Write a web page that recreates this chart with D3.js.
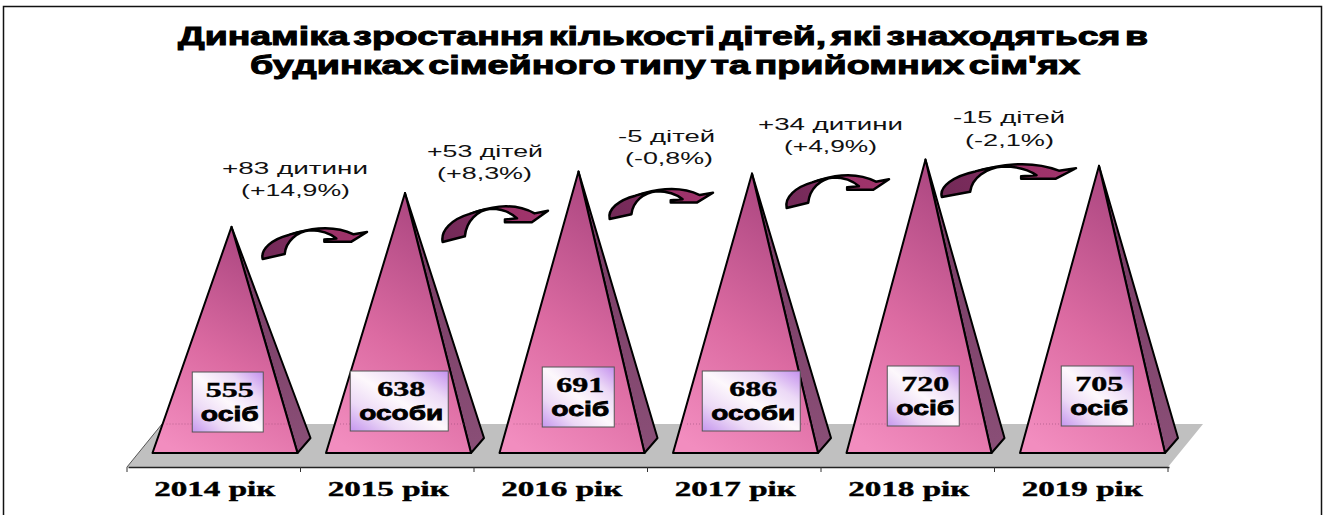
<!DOCTYPE html>
<html>
<head>
<meta charset="utf-8">
<script src="https://cdnjs.cloudflare.com/ajax/libs/d3/7.8.5/d3.min.js"></script>
<style>
  body { margin: 0; background: #fff; }
  svg { display: block; }
</style>
</head>
<body>
<svg></svg>
<script>
var width = 1325;
var height = 515;

// data
var years = ["2014 рік", "2015 рік", "2016 рік", "2017 рік", "2018 рік", "2019 рік"];
var children = [555, 638, 691, 686, 720, 705];
var units = ["осіб", "особи", "осіб", "особи", "осіб", "осіб"];
var changes = ["+83 дитини", "+53 дітей", "-5 дітей", "+34 дитини", "-15 дітей"];
var percents = ["(+14,9%)", "(+8,3%)", "(-0,8%)", "(+4,9%)", "(-2,1%)"];
var titleLines = [
  "Динаміка зростання кількості дітей, які знаходяться в",
  "будинках сімейного типу та прийомних сім'ях"
];

// placement of the hand-positioned callouts, not data
var boxLayout = [
  {dx: 14, top: 372, w: 71}, {dx: 12, top: 371, w: 98}, {dx: 17.5, top: 367, w: 72},
  {dx: 17, top: 371, w: 98}, {dx: 15.5, top: 366, w: 72}, {dx: 16, top: 366, w: 72}
];
var arrowLayout = [
  {x: 262, y: 227, w: 105, h: 32}, {x: 442, y: 205, w: 106, h: 37}, {x: 609, y: 188, w: 104, h: 31},
  {x: 786, y: 174, w: 103, h: 34}, {x: 941, y: 163, w: 135, h: 34}
];
var noteLayout = [
  {x1: 222, w1: 146, y1: 174, x2: 241, w2: 109, y2: 196},
  {x1: 427, w1: 116, y1: 157, x2: 437, w2: 95, y2: 179},
  {x1: 618, w1: 97, y1: 142, x2: 625, w2: 88, y2: 164},
  {x1: 758, w1: 145, y1: 130, x2: 784, w2: 93, y2: 152},
  {x1: 953, w1: 112, y1: 123, x2: 965, w2: 89, y2: 146}
];
var titleLayout = [{x: 178, w: 970, y: 45}, {x: 250, w: 830, y: 74}];

var svg = d3.select("svg").attr("width", width).attr("height", height);
var defs = svg.append("defs");

function gradient(id, x1, y1, x2, y2, stops) {
  var g = defs.append("linearGradient").attr("id", id)
      .attr("x1", x1).attr("y1", y1).attr("x2", x2).attr("y2", y2);
  stops.forEach(function(s) {
    g.append("stop").attr("offset", s[0]).attr("stop-color", s[1]);
  });
}
gradient("front", 0.2, 1, 0.55, 0, [[0, "#f28dbf"], [0.45, "#dc6ba2"], [1, "#ab4680"]]);
gradient("side", 0, 1, 0, 0, [[0, "#8a4f77"], [1, "#753860"]]);
gradient("box", 0, 1, 1, 0, [[0, "#c596ee"], [0.25, "#ecd9f6"], [0.5, "#fdf8fc"], [0.75, "#ecd9f6"], [1, "#c490ee"]]);
gradient("arrow", 0, 0.6, 1, 0.4, [[0, "#742a58"], [0.45, "#7e2c5e"], [0.6, "#9c3268"], [1, "#a0346c"]]);

// page frame, it runs off the bottom of the picture
svg.append("path")
    .attr("d", d3.line()([[3.5, height + 2], [3.5, 6.5], [1321.5, 6.5], [1321.5, height + 2]]))
    .attr("fill", "none")
    .attr("stroke", "#111")
    .attr("stroke-width", 1.5);

// scales
var x = d3.scaleBand().domain(years).range([127, 1168]);
var y = d3.scaleLinear().domain([0, 800]).range([453, 127]);

var baseInset = 25.5;
var baseWidth = 145;
var floorFront = 467;
var floorBack = 424;
var floorSkew = 35;

// floor
svg.append("path")
    .attr("d", d3.line()([
      [x.range()[0], floorFront], [x.range()[0] + floorSkew, floorBack],
      [x.range()[1] + floorSkew, floorBack], [x.range()[1], floorFront]
    ]) + "Z")
    .attr("fill", "#c0c0c0");
svg.append("path")
    .attr("d", d3.line()([[x.range()[0], floorFront], [x.range()[0] + floorSkew, floorBack]]))
    .attr("stroke", "#555").attr("fill", "none");

// axis
var axis = svg.append("g")
    .attr("transform", "translate(1,467)")
    .call(d3.axisBottom(x).tickSize(0).tickSizeOuter(0).tickPadding(15));
axis.select(".domain").attr("stroke", "#222").attr("stroke-width", 1.5);
axis.selectAll("text")
    .attr("font-family", "'Liberation Serif'")
    .attr("font-weight", "bold")
    .attr("font-size", 20)
    .attr("fill", "#000")
    .attr("stroke", "#000")
    .attr("stroke-width", 0.4)
    .attr("textLength", 121)
    .attr("lengthAdjust", "spacingAndGlyphs");

// tick marks sit between the categories
svg.selectAll("line.tick-mark")
    .data(years.map(function(d) { return x(d); }).concat(x.range()[1]))
    .enter().append("line")
    .attr("class", "tick-mark")
    .attr("x1", function(d) { return d; })
    .attr("x2", function(d) { return d; })
    .attr("y1", floorFront)
    .attr("y2", floorFront + 5)
    .attr("stroke", "#333");

// pyramids
var pyramids = svg.selectAll("g.pyramid")
    .data(years.map(function(d, i) { return {year: d, value: children[i], i: i}; }))
    .enter().append("g")
    .attr("class", "pyramid");

function corners(d) {
  var left = x(d.year) + baseInset;
  var right = left + baseWidth;
  return {
    left: [left, y(0)],
    right: [right, y(0)],
    apex: [left + baseWidth / 2 + 6.5, y(d.value)],
    back: [right + 13, y(0) - 15]
  };
}

pyramids.append("path")
    .attr("d", function(d) {
      var c = corners(d);
      return d3.line()([c.apex, c.back, c.right]) + "Z";
    })
    .attr("fill", "url(#side)")
    .attr("stroke", "#000")
    .attr("stroke-width", 2)
    .attr("stroke-linejoin", "round");

pyramids.append("path")
    .attr("d", function(d) {
      var c = corners(d);
      return d3.line()([c.apex, c.left, c.right]) + "Z";
    })
    .attr("fill", "url(#front)")
    .attr("stroke", "#000")
    .attr("stroke-width", 2)
    .attr("stroke-linejoin", "round");

// back edge of the floor shows faintly through the pyramids
pyramids.append("line")
    .attr("x1", function(d) { return x(d.year) + baseInset + 14; })
    .attr("x2", function(d) { return x(d.year) + baseInset + baseWidth - 2; })
    .attr("y1", floorBack)
    .attr("y2", floorBack)
    .attr("stroke", "#8a3f6c")
    .attr("stroke-opacity", 0.5)
    .attr("stroke-dasharray", "1,2");

// value boxes
var boxH = 60;
var boxes = svg.selectAll("g.value-box")
    .data(years.map(function(d, i) { return {year: d, value: children[i], unit: units[i], pos: boxLayout[i]}; }))
    .enter().append("g")
    .attr("class", "value-box")
    .attr("transform", function(d) {
      return "translate(" + (x(d.year) + x.bandwidth() / 2 + d.pos.dx) + "," + d.pos.top + ")";
    });

boxes.append("rect")
    .attr("x", function(d) { return -d.pos.w / 2; })
    .attr("y", 0)
    .attr("width", function(d) { return d.pos.w; })
    .attr("height", boxH)
    .attr("fill", "url(#box)")
    .attr("stroke", "#555")
    .attr("stroke-width", 1);

boxes.append("text")
    .attr("y", 25)
    .attr("x", 2)
    .attr("text-anchor", "middle")
    .attr("font-family", "'Liberation Serif'")
    .attr("font-weight", "bold")
    .attr("font-size", 20)
    .attr("stroke", "#000")
    .attr("stroke-width", 0.4)
    .attr("textLength", 48)
    .attr("lengthAdjust", "spacingAndGlyphs")
    .text(function(d) { return d.value; });

boxes.append("text")
    .attr("y", 49)
    .attr("x", 2)
    .attr("text-anchor", "middle")
    .attr("font-family", "'Liberation Sans'")
    .attr("font-weight", "bold")
    .attr("font-size", 21)
    .attr("stroke", "#000")
    .attr("stroke-width", 0.8)
    .attr("textLength", function(d) { return d.unit === "особи" ? 84 : 58; })
    .attr("lengthAdjust", "spacingAndGlyphs")
    .text(function(d) { return d.unit; });

// curved arrows, drawn on a 315 x 97 template
var arrowShape = "M22,115 C15,85 50,55 100,42 C150,26 225,6 295,40 L335,33 L287,63 L207,63 L207,56 L243,53 " +
    "C225,38 195,28 165,28 C125,32 92,60 88,100 Z";
var arrows = svg.selectAll("g.arrow")
    .data(arrowLayout)
    .enter().append("g")
    .attr("class", "arrow")
    .attr("transform", function(d) {
      return "translate(" + d.x + "," + d.y + ") scale(" + (d.w / 315) + "," + (d.h / 97) + ") translate(-20,-18)";
    });
arrows.append("path")
    .attr("d", arrowShape)
    .attr("fill", "url(#arrow)")
    .attr("stroke", "#000")
    .attr("stroke-width", 2.5)
    .attr("stroke-linejoin", "round")
    .attr("vector-effect", "non-scaling-stroke");
arrows.append("path")
    .attr("d", "M100,42 C125,32 145,28 165,28")
    .attr("fill", "none")
    .attr("stroke", "#000")
    .attr("stroke-width", 1.5)
    .attr("vector-effect", "non-scaling-stroke");

// change notes
var noteText = function(values, key) {
  svg.selectAll("text.note-" + key)
      .data(values)
      .enter().append("text")
      .attr("class", "note-" + key)
      .attr("x", function(d, i) { return noteLayout[i]["x" + key]; })
      .attr("y", function(d, i) { return noteLayout[i]["y" + key]; })
      .attr("textLength", function(d, i) { return noteLayout[i]["w" + key]; })
      .attr("lengthAdjust", "spacingAndGlyphs")
      .attr("font-family", "'Liberation Sans'")
      .attr("font-size", 16)
      .attr("fill", "#111")
      .text(function(d) { return d; });
};
noteText(changes, 1);
noteText(percents, 2);

// title
svg.selectAll("text.title")
    .data(titleLines)
    .enter().append("text")
    .attr("class", "title")
    .attr("x", function(d, i) { return titleLayout[i].x; })
    .attr("y", function(d, i) { return titleLayout[i].y; })
    .attr("textLength", function(d, i) { return titleLayout[i].w; })
    .attr("lengthAdjust", "spacingAndGlyphs")
    .attr("font-family", "'Liberation Sans'")
    .attr("font-weight", "bold")
    .attr("font-size", 26)
    .attr("word-spacing", -4)
    .attr("stroke", "#000")
    .attr("stroke-width", 1)
    .text(function(d) { return d; });
</script>
</body>
</html>
